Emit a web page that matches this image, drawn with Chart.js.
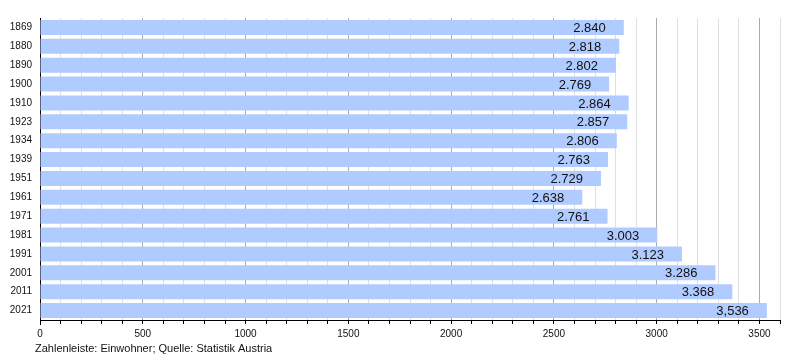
<!DOCTYPE html>
<html>
<head>
<meta charset="utf-8">
<script src="https://cdn.jsdelivr.net/npm/chart.js@4"></script>
<style>
  body { margin: 0; background: #fff; }
  #wrap { width: 800px; height: 360px; }
</style>
</head>
<body>
<div id="wrap"><canvas id="myChart" width="800" height="360"></canvas></div>
<script>
// years and population (Einwohner)
var years = ['1869','1880','1890','1900','1910','1923','1934','1939','1951','1961','1971','1981','1991','2001','2011','2021'];
var population = [2840, 2818, 2802, 2769, 2864, 2857, 2806, 2763, 2729, 2638, 2761, 3003, 3123, 3286, 3368, 3536];
var valueLabels = ['2.840','2.818','2.802','2.769','2.864','2.857','2.806','2.763','2.729','2.638','2.761','3.003','3.123','3.286','3.368','3,536'];
var xTicks = [0, 500, 1000, 1500, 2000, 2500, 3000, 3500];
var footerText = 'Zahlenleiste: Einwohner; Quelle: Statistik Austria';

var fontFam = '"Liberation Sans", Arial, sans-serif';

// value labels inside the bar end
var barLabels = {
  id: 'barLabels',
  afterDatasetsDraw(chart) {
    var ctx = chart.ctx;
    var meta = chart.getDatasetMeta(0);
    ctx.save();
    ctx.font = '13px ' + fontFam;
    ctx.fillStyle = '#111';
    ctx.textAlign = 'right';
    ctx.textBaseline = 'middle';
    meta.data.forEach(function(bar, i) {
      ctx.fillText(valueLabels[i], bar.x - 18, bar.y + 1);
    });
    ctx.restore();
  }
};

// source line under the axis
var footer = {
  id: 'footer',
  afterDraw(chart) {
    var ctx = chart.ctx;
    ctx.save();
    ctx.font = '11px ' + fontFam;
    ctx.fillStyle = '#111';
    ctx.textAlign = 'left';
    ctx.textBaseline = 'middle';
    ctx.fillText(footerText, 35, 349);
    // y axis stub below x axis
    ctx.strokeStyle = '#000';
    ctx.lineWidth = 1;
    ctx.beginPath();
    ctx.moveTo(chart.chartArea.left + 0.5, chart.chartArea.bottom);
    ctx.lineTo(chart.chartArea.left + 0.5, chart.chartArea.bottom + 5);
    ctx.stroke();
    ctx.restore();
  }
};

const ctxp = document.getElementById('myChart');

var popChart = new Chart(ctxp, {
  type: 'bar',
  data: {
    labels: years,
    datasets: [{
      data: population,
      backgroundColor: 'rgb(176,203,255)',
      borderWidth: 0,
      barPercentage: 0.8,
      categoryPercentage: 1
    }]
  },
  options: {
    indexAxis: 'y',
    responsive: false,
    animation: false,
    layout: { padding: { top: 18, right: 20, left: 0, bottom: 0 } },
    plugins: {
      legend: { display: false },
      tooltip: { enabled: false }
    },
    scales: {
      x: {
        min: 0,
        max: 3600,
        afterBuildTicks: function(scale) {
          var t = [];
          for (var v = 0; v <= 3600; v += 100) t.push({ value: v });
          scale.ticks = t;
        },
        ticks: {
          autoSkip: false,
          maxRotation: 0,
          padding: 4,
          color: '#111',
          font: { family: fontFam, size: 10 },
          callback: function(v) { return xTicks.indexOf(v) >= 0 ? String(v) : ''; }
        },
        grid: {
          color: function(c) {
            var v = c.tick ? c.tick.value : 0;
            return v % 500 === 0 ? '#aaaaaa' : '#e0e0e0';
          },
          tickColor: '#000',
          tickLength: 4,
          drawOnChartArea: true
        },
        border: { display: true, color: '#000', width: 1 },
        afterFit: function(scale) { scale.height = 40; }
      },
      y: {
        ticks: {
          color: '#111',
          padding: 8,
          font: { family: fontFam, size: 10 }
        },
        grid: { display: false, drawTicks: false },
        border: { display: true, color: '#000', width: 1 },
        afterFit: function(scale) { scale.width = 40; }
      }
    }
  },
  plugins: [barLabels, footer]
});
</script>
</body>
</html>
